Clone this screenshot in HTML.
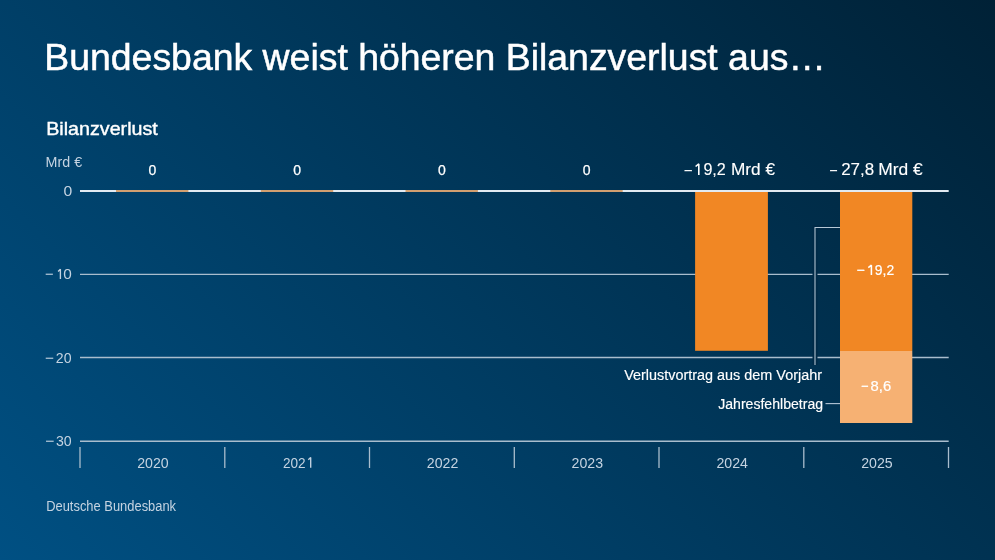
<!DOCTYPE html>
<html><head><meta charset="utf-8">
<style>
html,body{margin:0;padding:0;width:995px;height:560px;overflow:hidden;}
body{background:linear-gradient(45deg,#005083 0%,#002136 100%);font-family:"Liberation Sans",sans-serif;}
svg{position:absolute;left:0;top:0;will-change:transform;}
</style></head>
<body>
<svg width="995" height="560" viewBox="0 0 995 560" font-family="Liberation Sans, sans-serif">
  <!-- title -->
  <text x="44.3" y="70" font-size="37.4" fill="#ffffff" stroke="#ffffff" stroke-width="0.5">Bundesbank weist höheren Bilanzverlust aus…</text>
  <!-- subtitle -->
  <text x="46.2" y="134.6" font-size="18.6" stroke="#ffffff" stroke-width="0.4" fill="#ffffff" textLength="111.62" lengthAdjust="spacingAndGlyphs">Bilanzverlust</text>
  <text x="45.6" y="167" font-size="14" fill="#c4d3e1" textLength="36.5" lengthAdjust="spacingAndGlyphs">Mrd €</text>

  <!-- gridlines -->
  <g stroke="#a9bdcd" stroke-width="1.3">
    <line x1="80" y1="274.4" x2="948.7" y2="274.4"/>
    <line x1="80" y1="357.5" x2="948.7" y2="357.5"/>
    <line x1="80" y1="441.2" x2="948.7" y2="441.2" stroke-width="1.5"/>
  </g>

  <!-- axis labels -->
  <g font-size="15" fill="#c4d3e1" lengthAdjust="spacingAndGlyphs">
    <text x="63.4" y="195.6" textLength="8.74" lengthAdjust="spacingAndGlyphs">0</text>
    <text x="45.0" y="279" textLength="8.57" lengthAdjust="spacingAndGlyphs">−</text>
    <text x="63.2" y="279" textLength="8.54" lengthAdjust="spacingAndGlyphs">0</text>
    <text x="45.0" y="362.7" textLength="8.97" lengthAdjust="spacingAndGlyphs">−</text>
    <text x="55.8" y="362.7" textLength="15.69" lengthAdjust="spacingAndGlyphs">20</text>
    <text x="45.2" y="446.2" textLength="9.17" lengthAdjust="spacingAndGlyphs">−</text>
    <text x="56.0" y="446.2" textLength="15.69" lengthAdjust="spacingAndGlyphs">30</text>
  </g>

  <!-- ticks -->
  <g stroke="#a9bdcd" stroke-width="1.3">
    <line x1="80" y1="447" x2="80" y2="468"/>
    <line x1="224.8" y1="447" x2="224.8" y2="468"/>
    <line x1="369.5" y1="447" x2="369.5" y2="468"/>
    <line x1="514.3" y1="447" x2="514.3" y2="468"/>
    <line x1="659" y1="447" x2="659" y2="468"/>
    <line x1="803.8" y1="447" x2="803.8" y2="468"/>
    <line x1="948.5" y1="447" x2="948.5" y2="468"/>
  </g>
  <!-- year labels -->
  <g font-size="15.5" fill="#c4d3e1">
    <text x="137.2" y="467.8" textLength="31.48" lengthAdjust="spacingAndGlyphs">2020</text>
    <text x="283.0" y="467.8" textLength="22.67" lengthAdjust="spacingAndGlyphs">202</text>
    <text x="426.8" y="467.8" textLength="31.48" lengthAdjust="spacingAndGlyphs">2022</text>
    <text x="571.6" y="467.8" textLength="31.48" lengthAdjust="spacingAndGlyphs">2023</text>
    <text x="716.4" y="467.8" textLength="31.48" lengthAdjust="spacingAndGlyphs">2024</text>
    <text x="861.2" y="467.8" textLength="31.48" lengthAdjust="spacingAndGlyphs">2025</text>
  </g>

  <!-- bars -->
  <rect x="695.1" y="191" width="72.8" height="159.8" fill="#f18724"/>
  <rect x="840" y="191" width="72.3" height="160" fill="#f18724"/>
  <rect x="840" y="351" width="72.3" height="72" fill="#f6b173"/>

  <!-- leader lines with background knockout -->
  <g fill="none">
    <polyline points="840,227.4 815,227.4 815,365" stroke="#002a47" stroke-width="5"/>
    <polyline points="840,227.4 815,227.4 815,365" stroke="#b6c8d6" stroke-width="1.05"/>
    <line x1="825.5" y1="403.6" x2="840" y2="403.6" stroke="#b4c6d6" stroke-width="1.1"/>
  </g>

  <!-- zero line -->
  <line x1="80" y1="191" x2="948.7" y2="191" stroke="#e2eaf1" stroke-width="2"/>
  <g stroke="#d29f70" stroke-width="2">
    <line x1="116" y1="191" x2="188.4" y2="191"/>
    <line x1="260.8" y1="191" x2="333.2" y2="191"/>
    <line x1="405.5" y1="191" x2="477.9" y2="191"/>
    <line x1="550.3" y1="191" x2="622.7" y2="191"/>
  </g>

  <!-- zero value labels -->
  <g font-size="14" fill="#ffffff" stroke="#ffffff" stroke-width="0.25">
    <text x="148.4" y="175" textLength="7.8" lengthAdjust="spacingAndGlyphs">0</text>
    <text x="293.2" y="175" textLength="7.8" lengthAdjust="spacingAndGlyphs">0</text>
    <text x="438.0" y="175" textLength="7.8" lengthAdjust="spacingAndGlyphs">0</text>
    <text x="582.8" y="175" textLength="7.8" lengthAdjust="spacingAndGlyphs">0</text>
  </g>
  <!-- totals -->
  <g font-size="16" fill="#ffffff" stroke="#ffffff" stroke-width="0.1">
    <text x="683.8" y="175.9" textLength="8.74" lengthAdjust="spacingAndGlyphs">−</text>
    <text x="703.4" y="175.1" textLength="22.45" lengthAdjust="spacingAndGlyphs">9,2</text>
    <text x="731.0" y="175.1" textLength="44.11" lengthAdjust="spacingAndGlyphs">Mrd €</text>
    <text x="829.2" y="175.9" textLength="8.34" lengthAdjust="spacingAndGlyphs">−</text>
    <text x="841.2" y="175.1" textLength="32.94" lengthAdjust="spacingAndGlyphs">27,8</text>
    <text x="878.2" y="175.1" textLength="44.51" lengthAdjust="spacingAndGlyphs">Mrd €</text>
  </g>
  <!-- in-bar labels -->
  <g font-size="14.5" fill="#ffffff" stroke="#ffffff" stroke-width="0.2">
    <text x="856.4" y="275" textLength="8.27" lengthAdjust="spacingAndGlyphs">−</text>
    <text x="874.8" y="275" textLength="19.37" lengthAdjust="spacingAndGlyphs">9,2</text>
    <text x="861.0" y="390.9" textLength="7.47" lengthAdjust="spacingAndGlyphs">−</text>
    <text x="870.6" y="390.9" textLength="20.57" lengthAdjust="spacingAndGlyphs">8,6</text>
  </g>
  <!-- annotations -->
  <g font-size="14" fill="#ffffff" stroke="#ffffff" stroke-width="0.15">
    <text x="624.2" y="379.8" textLength="197.82" lengthAdjust="spacingAndGlyphs">Verlustvortrag aus dem Vorjahr</text>
    <text x="718.2" y="408.8" textLength="104.9" lengthAdjust="spacingAndGlyphs">Jahresfehlbetrag</text>
  </g>

  <!-- Frutiger-style ones -->
  <g fill="none" stroke-linecap="butt" stroke-linejoin="bevel">
    <path d="M58.1,271.6 L60.4,269.3 L60.4,279" stroke="#c4d3e1" stroke-width="1.35"/>
    <path d="M308.3,459.8 L310.7,457.5 L310.7,467.8" stroke="#c4d3e1" stroke-width="1.35"/>
    <path d="M695.6,166.5 L698.8,163.9 L698.8,175.1" stroke="#ffffff" stroke-width="1.6"/>
    <path d="M868.3,267.7 L871.4,265.2 L871.4,275" stroke="#ffffff" stroke-width="1.55"/>
  </g>

  <text x="46.2" y="511.4" font-size="14" fill="#c4d3e1" textLength="129.88" lengthAdjust="spacingAndGlyphs">Deutsche Bundesbank</text>
</svg>
</body></html>
